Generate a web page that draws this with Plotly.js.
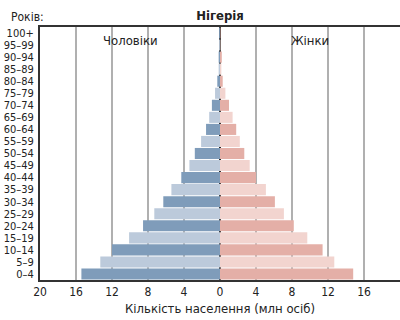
<!DOCTYPE html>
<html><head><meta charset="utf-8">
<script src="https://cdn.plot.ly/plotly-3.0.1.min.js"></script>
<style>html,body{margin:0;padding:0;background:#fff}#c{width:400px;height:320px}
svg text{font-stretch:condensed !important;}</style>
</head><body><div id="c"></div>
<script>
const ageGroups = ["0–4","5–9","10–14","15–19","20–24","25–29","30–34","35–39","40–44","45–49","50–54","55–59","60–64","65–69","70–74","75–79","80–84","85–89","90–94","95–99","100+"];
const maleValues = [15.4,13.3,12.0,10.1,8.55,7.3,6.3,5.4,4.3,3.4,2.8,2.1,1.55,1.2,0.9,0.55,0.3,0.15,0.15,0.1,0.1];
const femaleValues = [14.8,12.7,11.4,9.7,8.2,7.1,6.1,5.1,4.0,3.3,2.7,2.2,1.8,1.4,1.0,0.6,0.3,0.15,0.2,0.05,0.05];
const tickVals = [-20,-16,-12,-8,-4,0,4,8,12,16,20];
const tickText = ["20","16","12","8","4","0","4","8","12","16","20"];

const FONT = '"DejaVu Sans", sans-serif';
const maleCol = ageGroups.map((_, i) => i % 2 === 0 ? '#7f9cba' : '#bccadb');
const femCol = ageGroups.map((_, i) => i % 2 === 0 ? '#e4afa7' : '#f2d4cf');

const traces = [
  {type:'bar', orientation:'h', y:ageGroups, x:maleValues.map(v => -v), marker:{color:maleCol}, hoverinfo:'skip'},
  {type:'bar', orientation:'h', y:ageGroups, x:femaleValues, marker:{color:femCol}, hoverinfo:'skip'}
];
const layout = {
  width:400, height:320,
  margin:{l:40, r:0, t:27, b:40},
  paper_bgcolor:'#fff', plot_bgcolor:'#fff',
  barmode:'relative', bargap:0.08,
  showlegend:false,
  font:{family:FONT, size:12, color:'#222'},
  title:{text:'<b>Нігерія</b>', x:0.55, xanchor:'center', y:0.965, yanchor:'top', font:{family:FONT, size:13, color:'#222'}},
  xaxis:{range:[-20,20.001], tickvals:tickVals, ticktext:tickText, showgrid:true, gridcolor:'#b0b0b0', gridwidth:2,
    zeroline:true, zerolinecolor:'#222', zerolinewidth:2, showline:true, linecolor:'#333', linewidth:2, mirror:true,
    ticks:'', tickfont:{family:FONT, size:12, color:'#222'},
    title:{text:'Кількість населення (млн осіб)', font:{family:FONT, size:13, color:'#222'}, standoff:5}, fixedrange:true},
  yaxis:{type:'category', categoryorder:'array', categoryarray:ageGroups, tickmode:'array', tickvals:ageGroups, ticktext:ageGroups,
    range:[-0.5,20.5],
    showgrid:false, zeroline:false, showline:true, linecolor:'#333', linewidth:2, ticks:'',
    tickfont:{family:FONT, size:11, color:'#222'}, ticklabelstandoff:2, fixedrange:true},
  annotations:[
    {text:'Років:', xref:'paper', yref:'paper', x:-0.085, y:1.0, xanchor:'left', yanchor:'bottom', showarrow:false, yshift:1, font:{family:FONT, size:12, color:'#222'}},
    {text:'Чоловіки', xref:'x', yref:'paper', x:-10, y:0.985, xanchor:'center', yanchor:'top', showarrow:false, font:{family:FONT, size:13, color:'#222'}},
    {text:'Жінки', xref:'x', yref:'paper', x:10, y:0.985, xanchor:'center', yanchor:'top', showarrow:false, font:{family:FONT, size:13, color:'#222'}}
  ]
};
Plotly.newPlot('c', traces, layout, {staticPlot:true, displayModeBar:false});
</script></body></html>
